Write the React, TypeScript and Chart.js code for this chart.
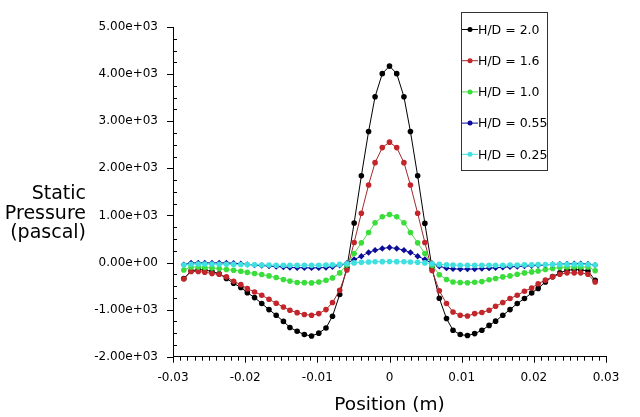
import { useEffect, useRef } from 'react';
import { Chart, registerables } from 'chart.js';

Chart.register(...registerables);

// sample positions along the plate (m)
const positions = [
  -0.0285, -0.0275, -0.0265, -0.0256, -0.0246, -0.0236, -0.0226, -0.0216, -0.0206, -0.0197,
  -0.0187, -0.0177, -0.0167, -0.0157, -0.0147, -0.0138, -0.0128, -0.0118, -0.0108, -0.0098,
  -0.0088, -0.0079, -0.0069, -0.0059, -0.0049, -0.0039, -0.0029, -0.002, -0.001, 0,
  0.001, 0.002, 0.0029, 0.0039, 0.0049, 0.0059, 0.0069, 0.0079, 0.0088, 0.0098,
  0.0108, 0.0118, 0.0128, 0.0138, 0.0147, 0.0157, 0.0167, 0.0177, 0.0187, 0.0197,
  0.0206, 0.0216, 0.0226, 0.0236, 0.0246, 0.0256, 0.0265, 0.0275, 0.0285,
];

// static pressure (Pa) per H/D
const hd20 = [
  -340, -180, -150, -160, -190, -240, -340, -440, -530, -640,
  -745, -870, -1000, -1120, -1250, -1380, -1460, -1530, -1560, -1500,
  -1390, -1140, -680, -110, 840, 1840, 2780, 3520, 4010, 4170,
  4010, 3520, 2780, 1840, 830, -120, -760, -1190, -1440, -1530,
  -1550, -1510, -1440, -1335, -1245, -1120, -1000, -870, -765, -645,
  -550, -415, -300, -220, -165, -150, -155, -180, -380,
];
const hd16 = [
  -350, -190, -190, -205, -235, -250, -305, -400, -470, -555,
  -625, -695, -780, -865, -945, -1015, -1065, -1105, -1120, -1085,
  -1000, -850, -590, -160, 425, 1045, 1645, 2120, 2440, 2555,
  2440, 2120, 1645, 1045, 425, -170, -600, -870, -1050, -1120,
  -1135, -1085, -1060, -1015, -930, -850, -765, -695, -610, -540,
  -450, -375, -305, -250, -220, -220, -220, -250, -415,
];
const hd10 = [
  -160, -95, -95, -105, -115, -130, -150, -165, -185, -210,
  -235, -255, -285, -320, -360, -395, -425, -428, -433, -413,
  -377, -327, -221, -50, 190, 417, 638, 843, 970, 1020,
  970, 843, 638, 417, 190, -60, -260, -360, -413, -426,
  -430, -420, -405, -365, -340, -306, -285, -250, -221, -200,
  -180, -150, -128, -106, -94, -94, -94, -94, -175,
];
const hd055 = [
  -45, -10, -8, -8, -8, -8, -10, -15, -25, -40,
  -55, -65, -75, -85, -95, -105, -110, -112, -115, -112,
  -105, -90, -60, -15, 64, 134, 213, 262, 298, 319,
  298, 262, 213, 134, 64, -20, -80, -120, -135, -140,
  -140, -138, -130, -120, -110, -100, -92, -85, -75, -68,
  -60, -50, -42, -35, -30, -28, -28, -30, -55,
];
const hd025 = [
  -55, -38, -35, -35, -35, -36, -38, -40, -42, -45,
  -48, -52, -55, -57, -58, -60, -60, -60, -60, -58,
  -55, -50, -40, -25, -8, 3, 10, 15, 18, 20,
  18, 15, 10, 3, -8, -25, -40, -50, -55, -58,
  -60, -60, -60, -60, -58, -57, -55, -52, -50, -48,
  -45, -42, -40, -40, -40, -40, -40, -40, -55,
];

const seriesLabels = ['H/D = 2.0', 'H/D = 1.6', 'H/D = 1.0', 'H/D = 0.55', 'H/D = 0.25'];
const seriesColors = ['#000000', '#c4252b', '#3ade3a', '#0c0c9a', '#40e0e0'];
const lineColors = ['#000000', '#9e2a2c', '#4fd94f', '#0c0c9a', '#40e0e0'];
const seriesValues = [hd20, hd16, hd10, hd055, hd025];

const yTicks = [-2000, -1000, 0, 1000, 2000, 3000, 4000, 5000];
const xTicks = [-0.03, -0.02, -0.01, 0, 0.01, 0.02, 0.03];
const yTitle = ['Static', 'Pressure', '(pascal)'];
const xTitle = 'Position (m)';

const FONT = '"DejaVu Sans", sans-serif';

function sci(v: number) {
  if (v === 0) return '0.00e+00';
  const e = Math.floor(Math.log10(Math.abs(v)));
  const m = v / Math.pow(10, e);
  return `${m.toFixed(2)}e${e < 0 ? '-' : '+'}${String(Math.abs(e)).padStart(2, '0')}`;
}

const decor = {
  id: 'decor',
  afterDraw(chart: any) {
    const { ctx, scales } = chart;
    const x = scales.x;
    const y = scales.y;
    const left = chart.chartArea.left;
    const bottom = chart.chartArea.bottom;
    ctx.save();
    ctx.strokeStyle = '#000';
    ctx.lineWidth = 1;

    // x ticks: major every 0.01, minor every 0.001
    ctx.beginPath();
    for (let i = 0; i <= 60; i++) {
      const px = Math.round(x.getPixelForValue(-0.03 + i * 0.001)) + 0.5;
      const len = i % 10 === 0 ? 6 : 4;
      ctx.moveTo(px, bottom);
      ctx.lineTo(px, bottom + len);
    }
    // y ticks: major every 1000, minor every 250
    for (let i = 0; i <= 28; i++) {
      const py = Math.round(y.getPixelForValue(-2000 + i * 250)) + 0.5;
      if (i % 4 === 0) {
        ctx.moveTo(left - 6, py);
        ctx.lineTo(left, py);
      } else {
        ctx.moveTo(left, py);
        ctx.lineTo(left + 4, py);
      }
    }
    ctx.stroke();

    // axis titles
    ctx.fillStyle = '#000';
    ctx.font = `19px ${FONT}`;
    ctx.textAlign = 'right';
    ctx.textBaseline = 'alphabetic';
    const base = [199, 219, 238];
    yTitle.forEach((t, i) => ctx.fillText(t, 86, base[i]));
    ctx.font = `18.5px ${FONT}`;
    ctx.textAlign = 'center';
    ctx.fillText(xTitle, (chart.chartArea.left + chart.chartArea.right) / 2, 410);

    // legend box
    const lx = 461;
    const ly = 12.5;
    ctx.lineWidth = 1;
    ctx.strokeStyle = '#333';
    ctx.strokeRect(lx + 0.5, ly, 86, 158);
    ctx.font = `12.5px ${FONT}`;
    ctx.textAlign = 'left';
    ctx.textBaseline = 'middle';
    seriesLabels.forEach((label, i) => {
      const cy = 29.5 + i * 31.2;
      ctx.strokeStyle = lineColors[i];
      ctx.beginPath();
      ctx.moveTo(lx + 1, cy);
      ctx.lineTo(lx + 17, cy);
      ctx.stroke();
      ctx.fillStyle = seriesColors[i];
      ctx.beginPath();
      ctx.arc(lx + 9, cy, 2.5, 0, Math.PI * 2);
      ctx.fill();
      ctx.fillStyle = '#000';
      ctx.fillText(label, lx + 17, cy + 1);
    });
    ctx.restore();
  },
};

export default function App() {
  const canvasRef = useRef<HTMLCanvasElement>(null);

  useEffect(() => {
    document.body.style.margin = '0';
    if (!canvasRef.current) return;
    const chart = new Chart(canvasRef.current, {
      type: 'line',
      data: {
        datasets: seriesValues.map((vals, i) => ({
          label: seriesLabels[i],
          data: positions.map((p, j) => ({ x: p, y: vals[j] })),
          borderColor: lineColors[i],
          backgroundColor: seriesColors[i],
          borderWidth: 1,
          pointRadius: i === 3 ? 3.2 : 2.8,
          pointBorderWidth: 0,
          pointStyle: i === 3 ? 'rectRot' : 'circle',
          tension: 0,
          order: 5 - i,
        })),
      },
      options: {
        responsive: true,
        maintainAspectRatio: false,
        animation: false,
        layout: { padding: { top: 27, right: 34, left: 0, bottom: 0 }, autoPadding: false },
        plugins: { legend: { display: false }, tooltip: { enabled: false } },
        font: { family: FONT },
        scales: {
          x: {
            type: 'linear',
            min: -0.03,
            max: 0.03,
            afterFit: (s: any) => { s.height = 60.3; },
            afterBuildTicks: (s: any) => { s.ticks = xTicks.map((v) => ({ value: v })); },
            grid: { display: false, drawTicks: false },
            border: { display: true, color: '#000', width: 1 },
            ticks: {
              color: '#000',
              padding: 14,
              maxRotation: 0,
              font: { family: FONT, size: 12 },
              callback: (v: any) => String(Number(Number(v).toFixed(3))),
            },
          },
          y: {
            min: -2000,
            max: 5000,
            afterFit: (s: any) => { s.width = 173; },
            afterBuildTicks: (s: any) => { s.ticks = yTicks.map((v) => ({ value: v })); },
            grid: { display: false, drawTicks: false },
            border: { display: true, color: '#000', width: 1 },
            ticks: {
              color: '#000',
              padding: 15,
              font: { family: FONT, size: 12 },
              callback: (v: any) => sci(Number(v)),
            },
          },
        },
      },
      plugins: [decor],
    });
    return () => chart.destroy();
  }, []);

  return (
    <div style={{ position: 'relative', width: 640, height: 417, background: '#fff' }}>
      <canvas ref={canvasRef} />
    </div>
  );
}
